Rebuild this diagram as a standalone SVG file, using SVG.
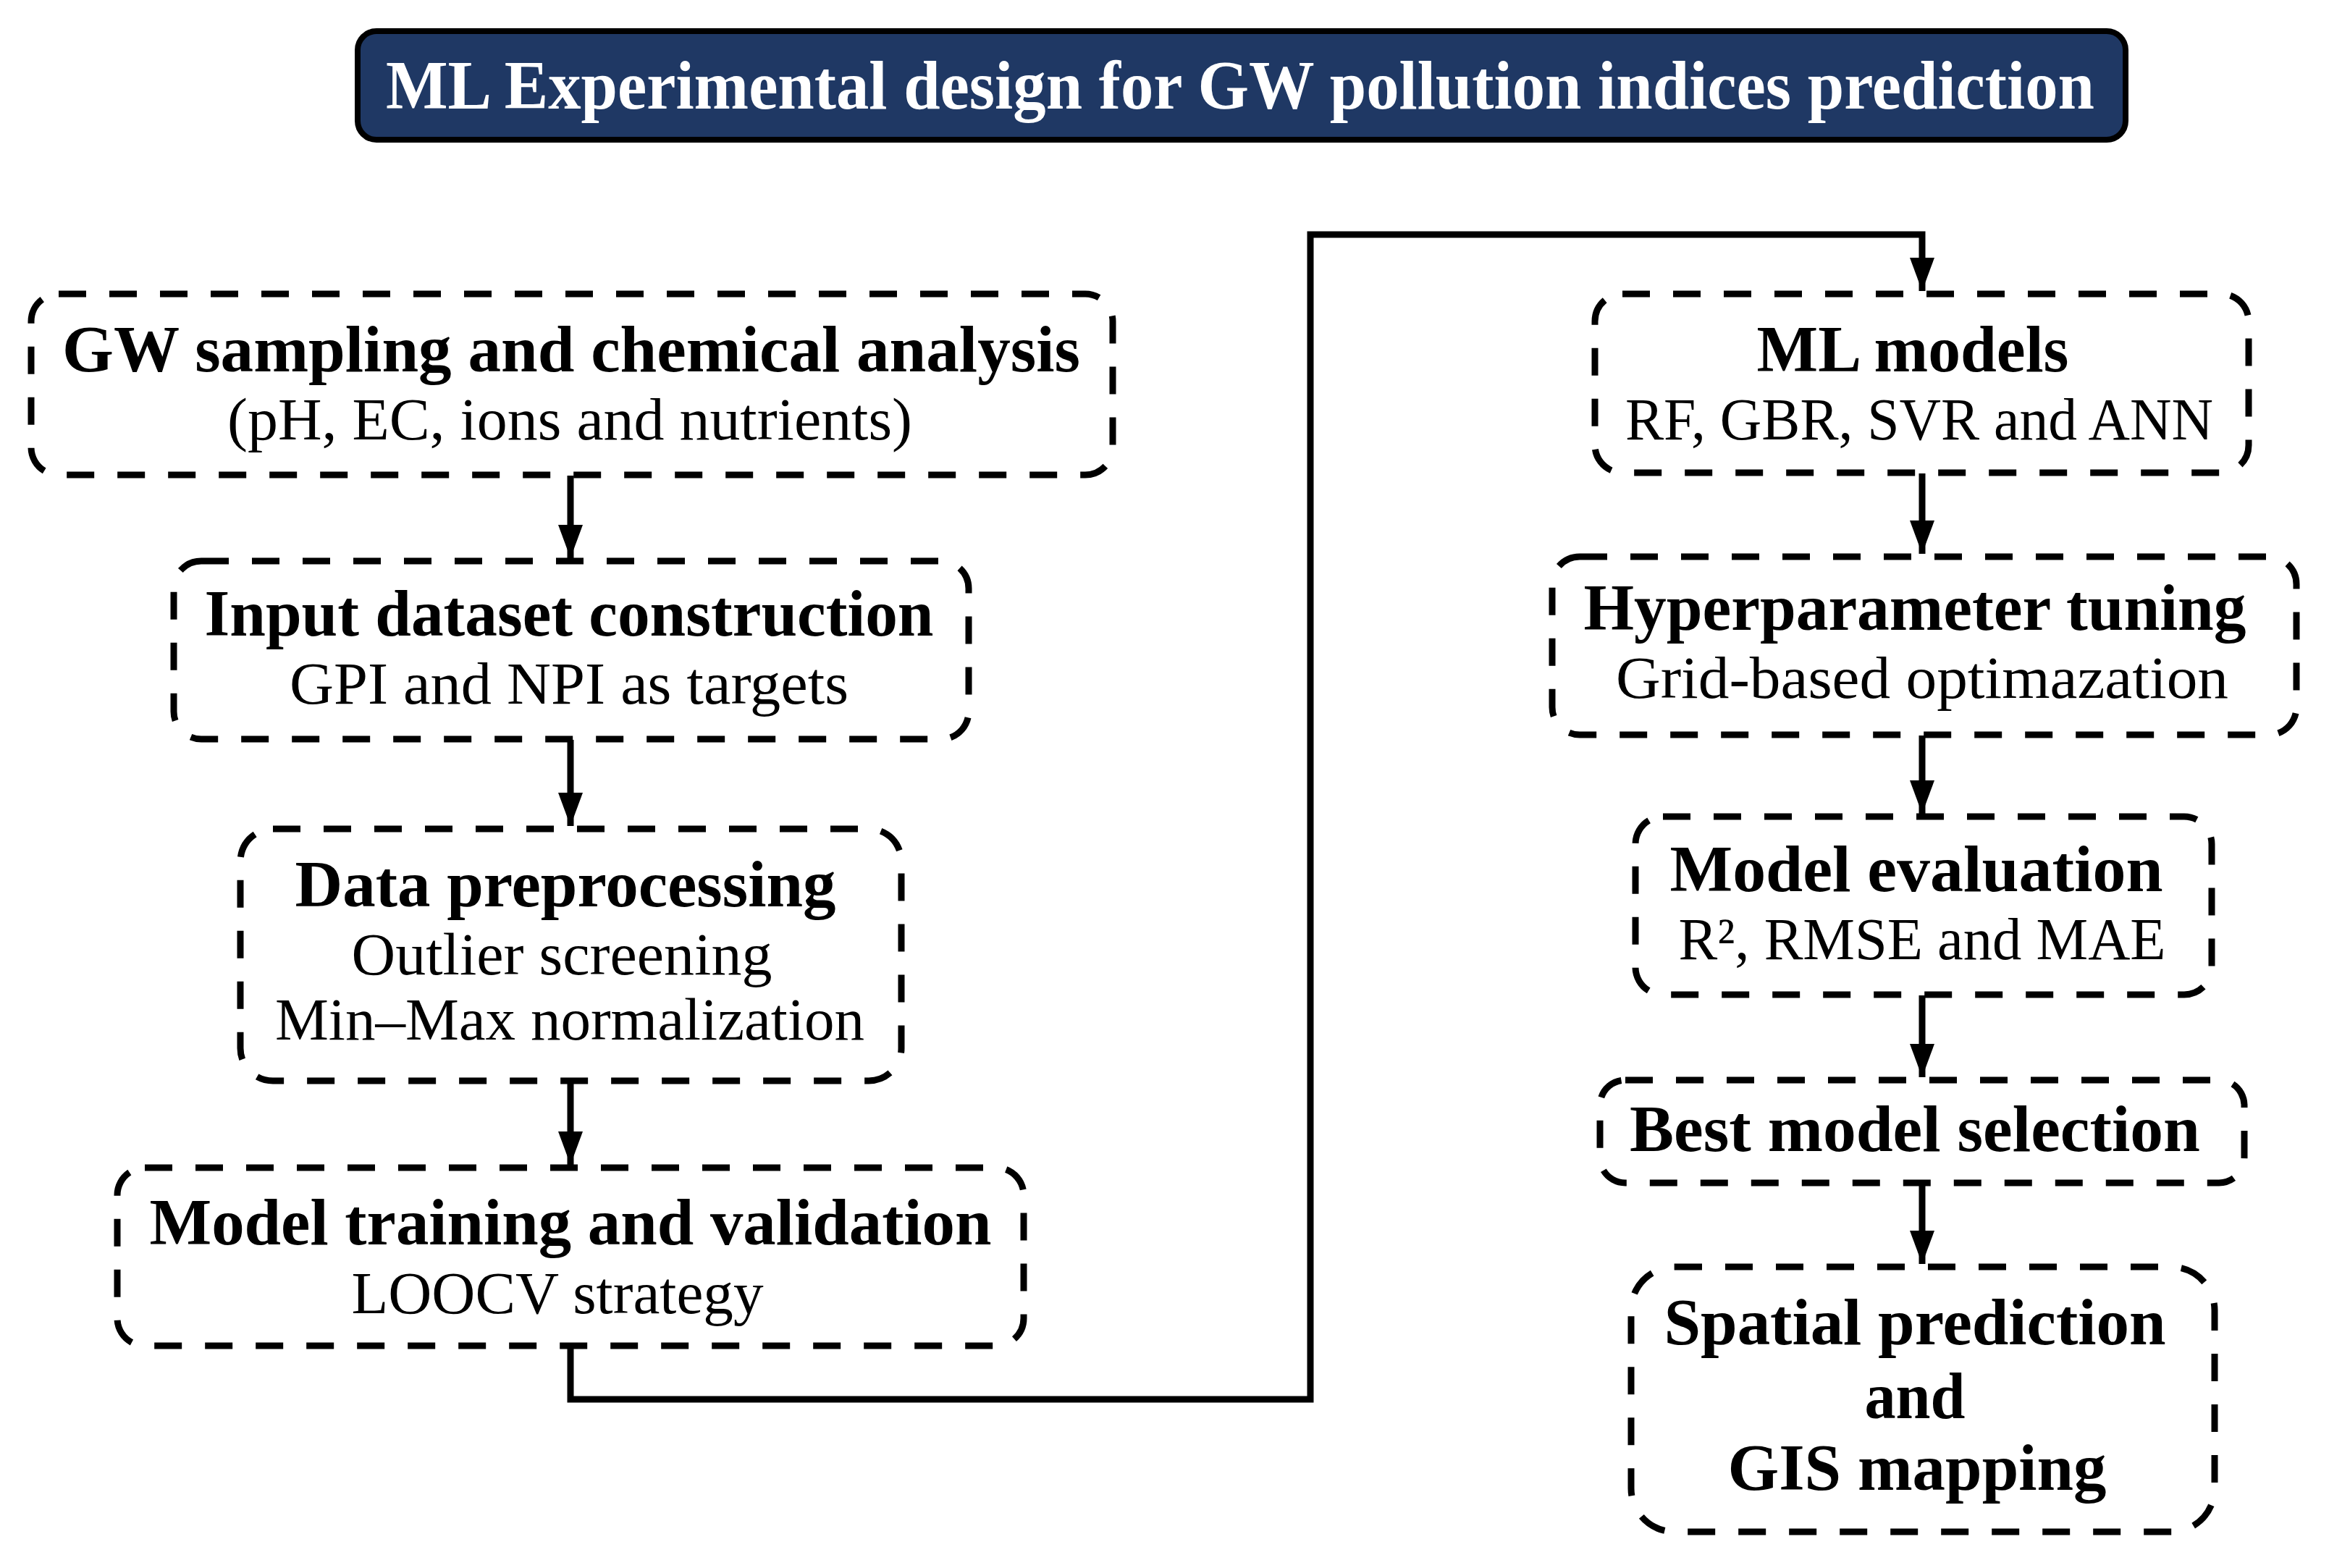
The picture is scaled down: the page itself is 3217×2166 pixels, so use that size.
<svg xmlns="http://www.w3.org/2000/svg" width="3217" height="2166" viewBox="0 0 3217 2166">
<style>
.box{fill:#fff;stroke:#000;stroke-width:9;stroke-dasharray:38 32}
.t{font-family:"Liberation Serif","DejaVu Serif",serif;fill:#000;text-anchor:middle}
.b{font-weight:bold;font-size:90px}
.r{font-size:82px}
.conn{fill:none;stroke:#000;stroke-width:9}
</style>
<defs>
<marker id="ah" viewBox="0 0 46 34" refX="46" refY="17" markerWidth="46" markerHeight="34" markerUnits="userSpaceOnUse" orient="auto">
<path d="M0,0 L46,17 L0,34 z" fill="#000"/>
</marker>
</defs>
<rect width="3217" height="2166" fill="#fff"/>
<g id="title">
<rect x="494" y="43" width="2442" height="150" rx="26" fill="#1f3864" stroke="#000" stroke-width="8"/>
<text class="t" x="1713" y="150" font-weight="bold" font-size="96" style="fill:#fff" textLength="2360" lengthAdjust="spacingAndGlyphs">ML Experimental design for GW pollution indices prediction</text>
</g>
<g id="connectors">
<path class="conn" d="M788,657 V771" marker-end="url(#ah)"/>
<path class="conn" d="M788,1022 V1141" marker-end="url(#ah)"/>
<path class="conn" d="M788,1494 V1609" marker-end="url(#ah)"/>
<path class="conn" d="M788,1861 V1933 H1810 V324 H2655 V402" marker-end="url(#ah)" stroke-width="10"/>
<path class="conn" d="M2655,654 V765" marker-end="url(#ah)"/>
<path class="conn" d="M2655,1016 V1124" marker-end="url(#ah)"/>
<path class="conn" d="M2655,1375 V1488" marker-end="url(#ah)"/>
<path class="conn" d="M2655,1635 V1746" marker-end="url(#ah)"/>
</g>
<g id="n1">
<rect class="box" x="43" y="406" width="1494" height="250" rx="38"/>
<text class="t b" x="789" y="513" textLength="1406" lengthAdjust="spacingAndGlyphs">GW sampling and chemical analysis</text>
<text class="t r" x="787" y="607" textLength="946" lengthAdjust="spacingAndGlyphs">(pH, EC, ions and nutrients)</text>
</g>
<g id="n2">
<rect class="box" x="240" y="775" width="1098" height="246" rx="38"/>
<text class="t b" x="786" y="878" textLength="1007" lengthAdjust="spacingAndGlyphs">Input dataset construction</text>
<text class="t r" x="786" y="972" textLength="772" lengthAdjust="spacingAndGlyphs">GPI and NPI as targets</text>
</g>
<g id="n3">
<rect class="box" x="332" y="1145" width="913" height="348" rx="45"/>
<text class="t b" x="781" y="1252" textLength="747" lengthAdjust="spacingAndGlyphs">Data preprocessing</text>
<text class="t r" x="776" y="1346" textLength="581" lengthAdjust="spacingAndGlyphs">Outlier screening</text>
<text class="t r" x="787" y="1436" textLength="814" lengthAdjust="spacingAndGlyphs">Min–Max normalization</text>
</g>
<g id="n4">
<rect class="box" x="162" y="1613" width="1252" height="246" rx="38"/>
<text class="t b" x="788" y="1719" textLength="1163" lengthAdjust="spacingAndGlyphs">Model training and validation</text>
<text class="t r" x="770" y="1814" textLength="569" lengthAdjust="spacingAndGlyphs">LOOCV strategy</text>
</g>
<g id="n5">
<rect class="box" x="2203" y="406" width="903" height="247" rx="38"/>
<text class="t b" x="2642" y="513" textLength="431" lengthAdjust="spacingAndGlyphs">ML models</text>
<text class="t r" x="2651" y="607" textLength="812" lengthAdjust="spacingAndGlyphs">RF, GBR, SVR and ANN</text>
</g>
<g id="n6">
<rect class="box" x="2144" y="769" width="1028" height="246" rx="38"/>
<text class="t b" x="2645" y="870" textLength="915" lengthAdjust="spacingAndGlyphs">Hyperparameter tuning</text>
<text class="t r" x="2655" y="964" textLength="846" lengthAdjust="spacingAndGlyphs">Grid-based optimazation</text>
</g>
<g id="n7">
<rect class="box" x="2259" y="1128" width="796" height="246" rx="38"/>
<text class="t b" x="2647" y="1231" textLength="681" lengthAdjust="spacingAndGlyphs">Model evaluation</text>
<text class="t r" x="2655" y="1325" textLength="673" lengthAdjust="spacingAndGlyphs">R², RMSE and MAE</text>
</g>
<g id="n8">
<rect class="box" x="2210" y="1492" width="890" height="142" rx="35"/>
<text class="t b" x="2645" y="1590" textLength="788" lengthAdjust="spacingAndGlyphs">Best model selection</text>
</g>
<g id="n9">
<rect class="box" x="2253" y="1750" width="806" height="366" rx="60"/>
<text class="t b" x="2645" y="1857" textLength="693" lengthAdjust="spacingAndGlyphs">Spatial prediction</text>
<text class="t b" x="2645" y="1959" textLength="139" lengthAdjust="spacingAndGlyphs">and</text>
<text class="t b" x="2648" y="2058" textLength="523" lengthAdjust="spacingAndGlyphs">GIS mapping</text>
</g>
</svg>
